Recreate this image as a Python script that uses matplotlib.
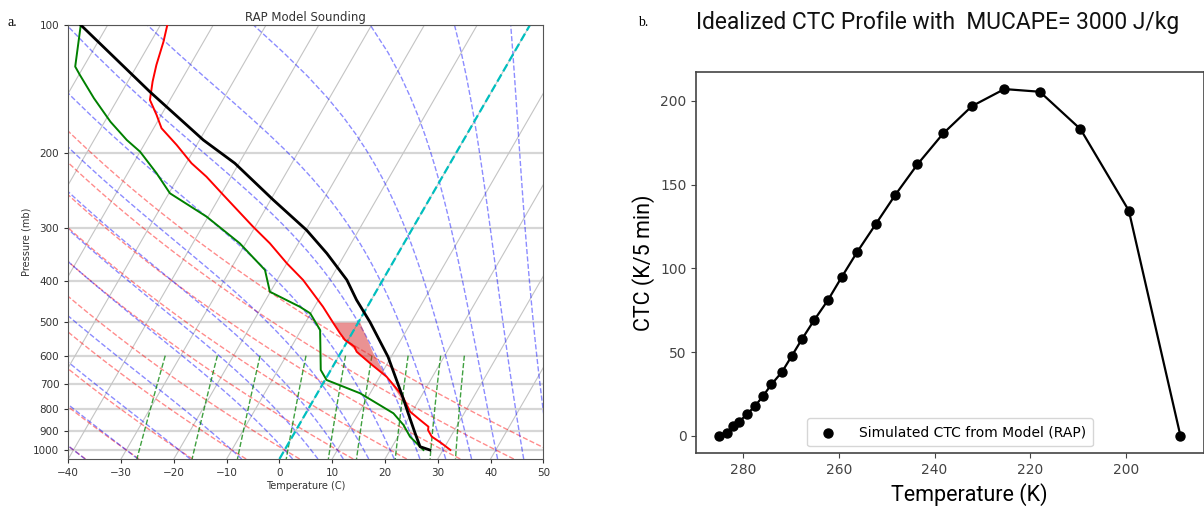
import numpy as np
import matplotlib
matplotlib.use("Agg")
import matplotlib.pyplot as plt
import matplotlib.transforms as mtransforms
from matplotlib.ticker import NullLocator

# ---------------- data: RAP sounding (left panel) ----------------
temp_p = [100, 109.5, 124.2, 135.9, 150.1, 162.8, 175.0, 191.6, 211.5, 227.5,
          251.2, 298.3, 326.4, 363.7, 398.1, 460.2, 503.4, 531, 551, 571, 587.2,
          625.2, 672.3, 742.3, 812.8, 850.2, 881.6, 898, 930, 964.3, 1000]
temp_c = [-68.7, -67.6, -66.4, -65.3, -63.8, -60.9, -58.5, -53.8, -49.0, -44.7,
          -39.5, -30.4, -25.4, -20.0, -15.1, -8.4, -4.6, -2.3, -0.6, 1.9, 2.9,
          6.7, 11.3, 16.2, 19.6, 22.4, 24.7, 25.0, 26.4, 29.0, 31.4]

dewp_p = [100, 125.3, 131.1, 148.7, 168.9, 186.5, 198.7, 223.4, 248.9, 282.5,
          326.4, 377.2, 424.3, 460.2, 476.9, 522.0, 648.4, 684.5, 735.5, 819.8,
          873.6, 930.5, 982.2, 1000]
dewp_c = [-85.1, -81.6, -79.8, -74.6, -68.9, -63.8, -60.0, -54.5, -49.8, -40.3,
          -31.1, -23.4, -20.1, -12.8, -10.1, -6.4, -1.9, 0.3, 8.1, 16.6,
          19.8, 22.3, 25.3, 26.3]

parcel_p = [100, 143.6, 186.5, 211.5, 258.0, 303.8, 344.7, 398.1, 443.4, 500.3,
            603.6, 751.0, 819.8, 913.7, 982.2, 1000]
parcel_c = [-85.1, -64.7, -49.3, -40.8, -29.5, -19.9, -13.5, -6.8, -2.8, 2.2,
            9.4, 16.6, 19.4, 22.9, 25.3, 27.5]

# outline of the shaded positive-area region
cape_p = [501.7, 551, 587.2, 625.2, 672.3, 742.3, 761.3, 672.3, 591.6, 501.7]
cape_c = [-4.7, -0.6, 2.9, 6.7, 11.3, 16.2, 16.7, 11.3, 6.2, 0.4]

# thermodynamic reference lines of the Skew-T
isotherm_c = np.arange(-130, 51, 10)
dry_t0_c = np.arange(-40, 51, 10)
moist_t0_c = np.concatenate([np.arange(-40, 0, 10), np.arange(0, 51, 5)])
mixing_ratios = [0.0004, 0.001, 0.002, 0.004, 0.007, 0.01, 0.016, 0.024, 0.032]
p_ticks = [100, 200, 300, 400, 500, 600, 700, 800, 900, 1000]
t_ticks = [-40, -30, -20, -10, 0, 10, 20, 30, 40, 50]

# ---------------- data: CTC profile (right panel) ----------------
ctc_temp_k = [285.0, 283.3, 282.2, 280.8, 279.2, 277.5, 275.8, 274.1, 271.9, 269.8,
              267.7, 265.2, 262.3, 259.4, 256.2, 252.3, 248.3, 243.6, 238.2, 232.2,
              225.4, 218.0, 209.5, 199.4, 188.6]
ctc_value = [0.0, 2.0, 5.8, 8.6, 13.1, 17.9, 24.1, 30.8, 38.2, 48.0,
             57.9, 69.0, 81.0, 94.9, 109.7, 126.4, 143.5, 162.0, 180.5, 196.8,
             207.0, 205.4, 183.1, 134.5, 0.0]
ctc_x_ticks = [280, 260, 240, 220, 200]
ctc_y_ticks = [0, 50, 100, 150, 200]

# ---------------- thermodynamics helpers ----------------
Rd, Cp, Lv, EPS = 287.04749, 1004.6662, 2.50084e6, 0.621957


def dry_adiabat(t0_c, p):
    return (t0_c + 273.15) * (p / 1000.0) ** (Rd / Cp) - 273.15


def _es(tk):
    return 6.112 * np.exp(17.67 * (tk - 273.15) / (tk - 29.65))


def _moist_dtdp(p, tk):
    es = _es(tk)
    rs = EPS * es / (p - es)
    frac = (Rd * tk + Lv * rs) / (Cp + (Lv * Lv * rs * EPS / (Rd * tk * tk)))
    return frac / p


def moist_adiabat(t0_c, p_levels):
    out = []
    for target in p_levels:
        p, t = 1000.0, t0_c + 273.15
        n = 40
        h = (target - p) / n
        for _ in range(n):
            k1 = _moist_dtdp(p, t)
            k2 = _moist_dtdp(p + h / 2, t + h / 2 * k1)
            k3 = _moist_dtdp(p + h / 2, t + h / 2 * k2)
            k4 = _moist_dtdp(p + h, t + h * k3)
            t += h / 6 * (k1 + 2 * k2 + 2 * k3 + k4)
            p += h
        out.append(t - 273.15)
    return np.array(out)


def mixing_line(w, p):
    e = p * w / (EPS + w)
    v = np.log(e / 6.112)
    return 243.5 * v / (17.67 - v)


class SkewTransform(mtransforms.Affine2D):
    """Skew in display space, zero at the bottom of the axes."""

    def __init__(self, bbox, rot):
        self._bbox = bbox
        self._rot = rot
        super().__init__()
        self.set_children(bbox)
        self.invalidate()

    def get_matrix(self):
        if self._invalid:
            t = np.tan(np.deg2rad(self._rot))
            self._mtx = np.identity(3)
            self._mtx[0, 1] = t
            self._mtx[0, 2] = -self._bbox.y0 * t
            self._inverted = None
            self._invalid = 0
        return self._mtx


# ---------------- figure ----------------
fig = plt.figure(figsize=(12.04, 5.16), dpi=100)

# ---- left: skew-T ----
ax = fig.add_axes([0.0567, 0.1105, 0.3946, 0.8411])
ax.set_yscale("log")
ax.set_ylim(1050, 100)
ax.set_xlim(-40, 50)
ax.autoscale(False)
skew = ax.transData + SkewTransform(ax.bbox, 30)

p_full = np.array([1050.0, 100.0])
for t in isotherm_c:
    ax.plot([t, t], p_full, color="#c4c4c4", lw=0.8, transform=skew, zorder=1)

p_lin = np.linspace(1050, 100, 60)
for t0 in dry_t0_c:
    ax.plot(dry_adiabat(t0, p_lin), p_lin, color="r", ls="--", lw=1.0,
            alpha=0.45, transform=skew, zorder=1.2)
for t0 in moist_t0_c:
    ax.plot(moist_adiabat(t0, p_lin), p_lin, color="b", ls="--", lw=1.0,
            alpha=0.45, transform=skew, zorder=1.2)
p_mix = np.linspace(600, 1050, 30)
for w in mixing_ratios:
    ax.plot(mixing_line(w, p_mix), p_mix, color="g", ls="--", lw=1.0,
            alpha=0.75, transform=skew, zorder=1.2)

ax.fill(cape_c, cape_p, color="tab:red", alpha=0.5, lw=0, transform=skew, zorder=1.5)
ax.plot([0, 0], p_full, color="c", ls="--", lw=1.6, transform=skew, zorder=1.6)

ax.plot(temp_c, temp_p, color="r", lw=1.4, transform=skew, zorder=3)
ax.plot(dewp_c, dewp_p, color="g", lw=1.4, transform=skew, zorder=3)
ax.plot(parcel_c, parcel_p, color="k", lw=2.0, transform=skew, zorder=3)

ax.set_yticks(p_ticks)
ax.set_yticklabels([str(v) for v in p_ticks])
ax.yaxis.set_minor_locator(NullLocator())
ax.set_xticks(t_ticks)
ax.grid(True, axis="y", color="#d6d6d6", lw=1.6, zorder=0.5)
ax.set_axisbelow(True)
ax.tick_params(labelsize=7.5, colors="#333333", length=3)
for s in ax.spines.values():
    s.set_color("#555555")
ax.set_title("RAP Model Sounding", fontsize=8.5, color="#333333", pad=3)
ax.set_xlabel("Temperature (C)", fontsize=7, color="#333333", labelpad=2)
ax.set_ylabel("Pressure (mb)", fontsize=7, color="#333333", labelpad=1)

# ---- right: CTC profile ----
ax2 = fig.add_axes([0.5783, 0.1215, 0.4213, 0.7395])
ax2.plot(ctc_temp_k, ctc_value, color="k", lw=1.6, zorder=2)
ax2.scatter(ctc_temp_k, ctc_value, s=42, color="k", zorder=3,
            label="Simulated CTC from Model (RAP)")
ax2.invert_xaxis()
ax2.set_xticks(ctc_x_ticks)
ax2.set_yticks(ctc_y_ticks)
ax2.tick_params(labelsize=10, colors="#444444")
for s in ax2.spines.values():
    s.set_color("#444444")
    s.set_linewidth(1.2)
ax2.set_ylabel("CTC (K/5 min)", fontsize=15.5, family="Roboto")
ax2.set_xlabel("Temperature (K)", fontsize=15.5, family="Roboto")
ax2.xaxis.label.set_x(0.539)
ax2.legend(loc="lower center", fontsize=10, handletextpad=1.2, borderpad=0.5)

# ---- panel letters and right title ----
fig.text(8 / 1204, 1 - 23 / 516, "a.", fontsize=10, family="Liberation Serif", va="center")
fig.text(638 / 1204, 1 - 23 / 516, "b.", fontsize=10, family="Liberation Serif", va="center")
fig.text(696 / 1204, 1 - 22 / 516, "Idealized CTC Profile with  MUCAPE= 3000 J/kg",
         fontsize=16.4, family="Roboto", va="center", ha="left", color="#111111")

fig.savefig("out.png", dpi=100)
